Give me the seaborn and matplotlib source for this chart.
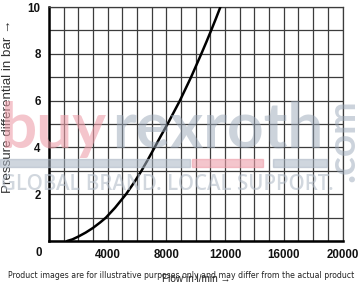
import matplotlib
matplotlib.use("Agg")
import matplotlib.pyplot as plt
import seaborn as sns
import pandas as pd
import numpy as np

flow = [1230, 1600, 2000, 2500, 3000, 3500, 3880, 4500, 5250, 5800, 6300, 6760,
        7200, 7630, 8080, 8500, 8920, 9300, 9680, 10030, 10380, 10720, 11050, 11370, 11680]
pressure = [0, 0.07, 0.19, 0.36, 0.56, 0.8, 1.0, 1.42, 2.0, 2.5, 3.0, 3.5,
            4.0, 4.5, 5.0, 5.5, 6.0, 6.5, 7.0, 7.5, 8.0, 8.5, 9.0, 9.5, 10.0]
x_ticks = [4000, 8000, 12000, 16000, 20000]
y_ticks = [2, 4, 6, 8, 10]

sns.set_theme(style="white")
plt.rcParams['font.family'] = ['Liberation Sans', 'DejaVu Sans']

fig = plt.figure(figsize=(3.61, 2.90), dpi=100)
ax = fig.add_axes([49/361, 1-241/290, (342.5-49)/361, (241-7)/290])

df = pd.DataFrame({"flow": flow, "pressure": pressure})
sns.lineplot(data=df, x="flow", y="pressure", ax=ax, color='black', linewidth=1.8, zorder=5)

ax.set_xlim(0, 20000)
ax.set_ylim(0, 10)
ax.set_xticks(np.arange(0, 20001, 1000), minor=True)
ax.set_yticks(np.arange(0, 11, 1), minor=True)
ax.set_xticks(x_ticks)
ax.set_yticks(y_ticks)
ax.grid(True, which='both', color='#3c3c3c', linewidth=0.9)
ax.set_axisbelow(True)
ax.tick_params(which='both', length=0, labelsize=8.3, pad=6, labelcolor='#111111')
for lab in ax.get_xticklabels() + ax.get_yticklabels():
    lab.set_fontweight('bold')
ax.set_xlabel("")
ax.set_ylabel("")
for s in ['left', 'bottom']:
    ax.spines[s].set_color('black')
    ax.spines[s].set_linewidth(1.8)
for s in ['top', 'right']:
    ax.spines[s].set_color('#3c3c3c')
    ax.spines[s].set_linewidth(0.9)

fig.text(39/361, 1-253/290, "0", fontsize=8.3, fontweight='bold', ha='center', va='center',
         color='#111111')

fig.text(8/361, 1-106/290, "Pressure differential in bar \u2192", rotation=90, fontsize=9.6,
         ha='center', va='center', color='#333333',
         family=['Liberation Sans Narrow', 'Liberation Sans', 'DejaVu Sans'])

fig.text(181/361, 1-276/290, "Product images are for illustrative purposes only and may differ from the actual product",
         fontsize=5.6, ha='center', va='center', color='#222222', family=['DejaVu Sans'])
fig.text(196/361, 1-279/290, "Flow in l/min \u2192", fontsize=7.2, ha='center', va='center',
         color='#222222', family=['Liberation Sans Narrow', 'Liberation Sans', 'DejaVu Sans'])

# watermark overlay
wz = 20
fig.text(0.0, 1-148/290, "buy", fontsize=46, fontweight='bold', color='#ee9faa', alpha=0.6,
         family=['Lato', 'DejaVu Sans'], zorder=wz, va='baseline')
fig.text(112/361, 1-148/290, "rexroth", fontsize=46, fontweight='bold', color='#9aa8b9', alpha=0.5,
         family=['Lato', 'DejaVu Sans'], zorder=wz, va='baseline')
fig.add_artist(plt.Rectangle((0/361, 1-167/290), 190/361, 8/290, transform=fig.transFigure,
                             color='#a9b5c3', alpha=0.55, zorder=wz))
fig.add_artist(plt.Rectangle((192/361, 1-167/290), 71/361, 8/290, transform=fig.transFigure,
                             color='#ee9faa', alpha=0.6, zorder=wz))
fig.add_artist(plt.Rectangle((273/361, 1-167/290), 54/361, 8/290, transform=fig.transFigure,
                             color='#a9b5c3', alpha=0.55, zorder=wz))
fig.text(1/361, 1-185/290, "GLOBAL BRAND. LOCAL SUPPORT.", fontsize=14.8, fontweight='semibold',
         color='#b3bdc9', alpha=0.6, va='center', family=['Open Sans', 'DejaVu Sans'], zorder=wz)
fig.text(343/361, 1-141/290, ".com", rotation=90, fontsize=28, fontweight='bold',
         color='#9aa8b9', alpha=0.5, ha='center', va='center', family=['Lato', 'DejaVu Sans'], zorder=wz)

fig.savefig("out.png", dpi=100)
